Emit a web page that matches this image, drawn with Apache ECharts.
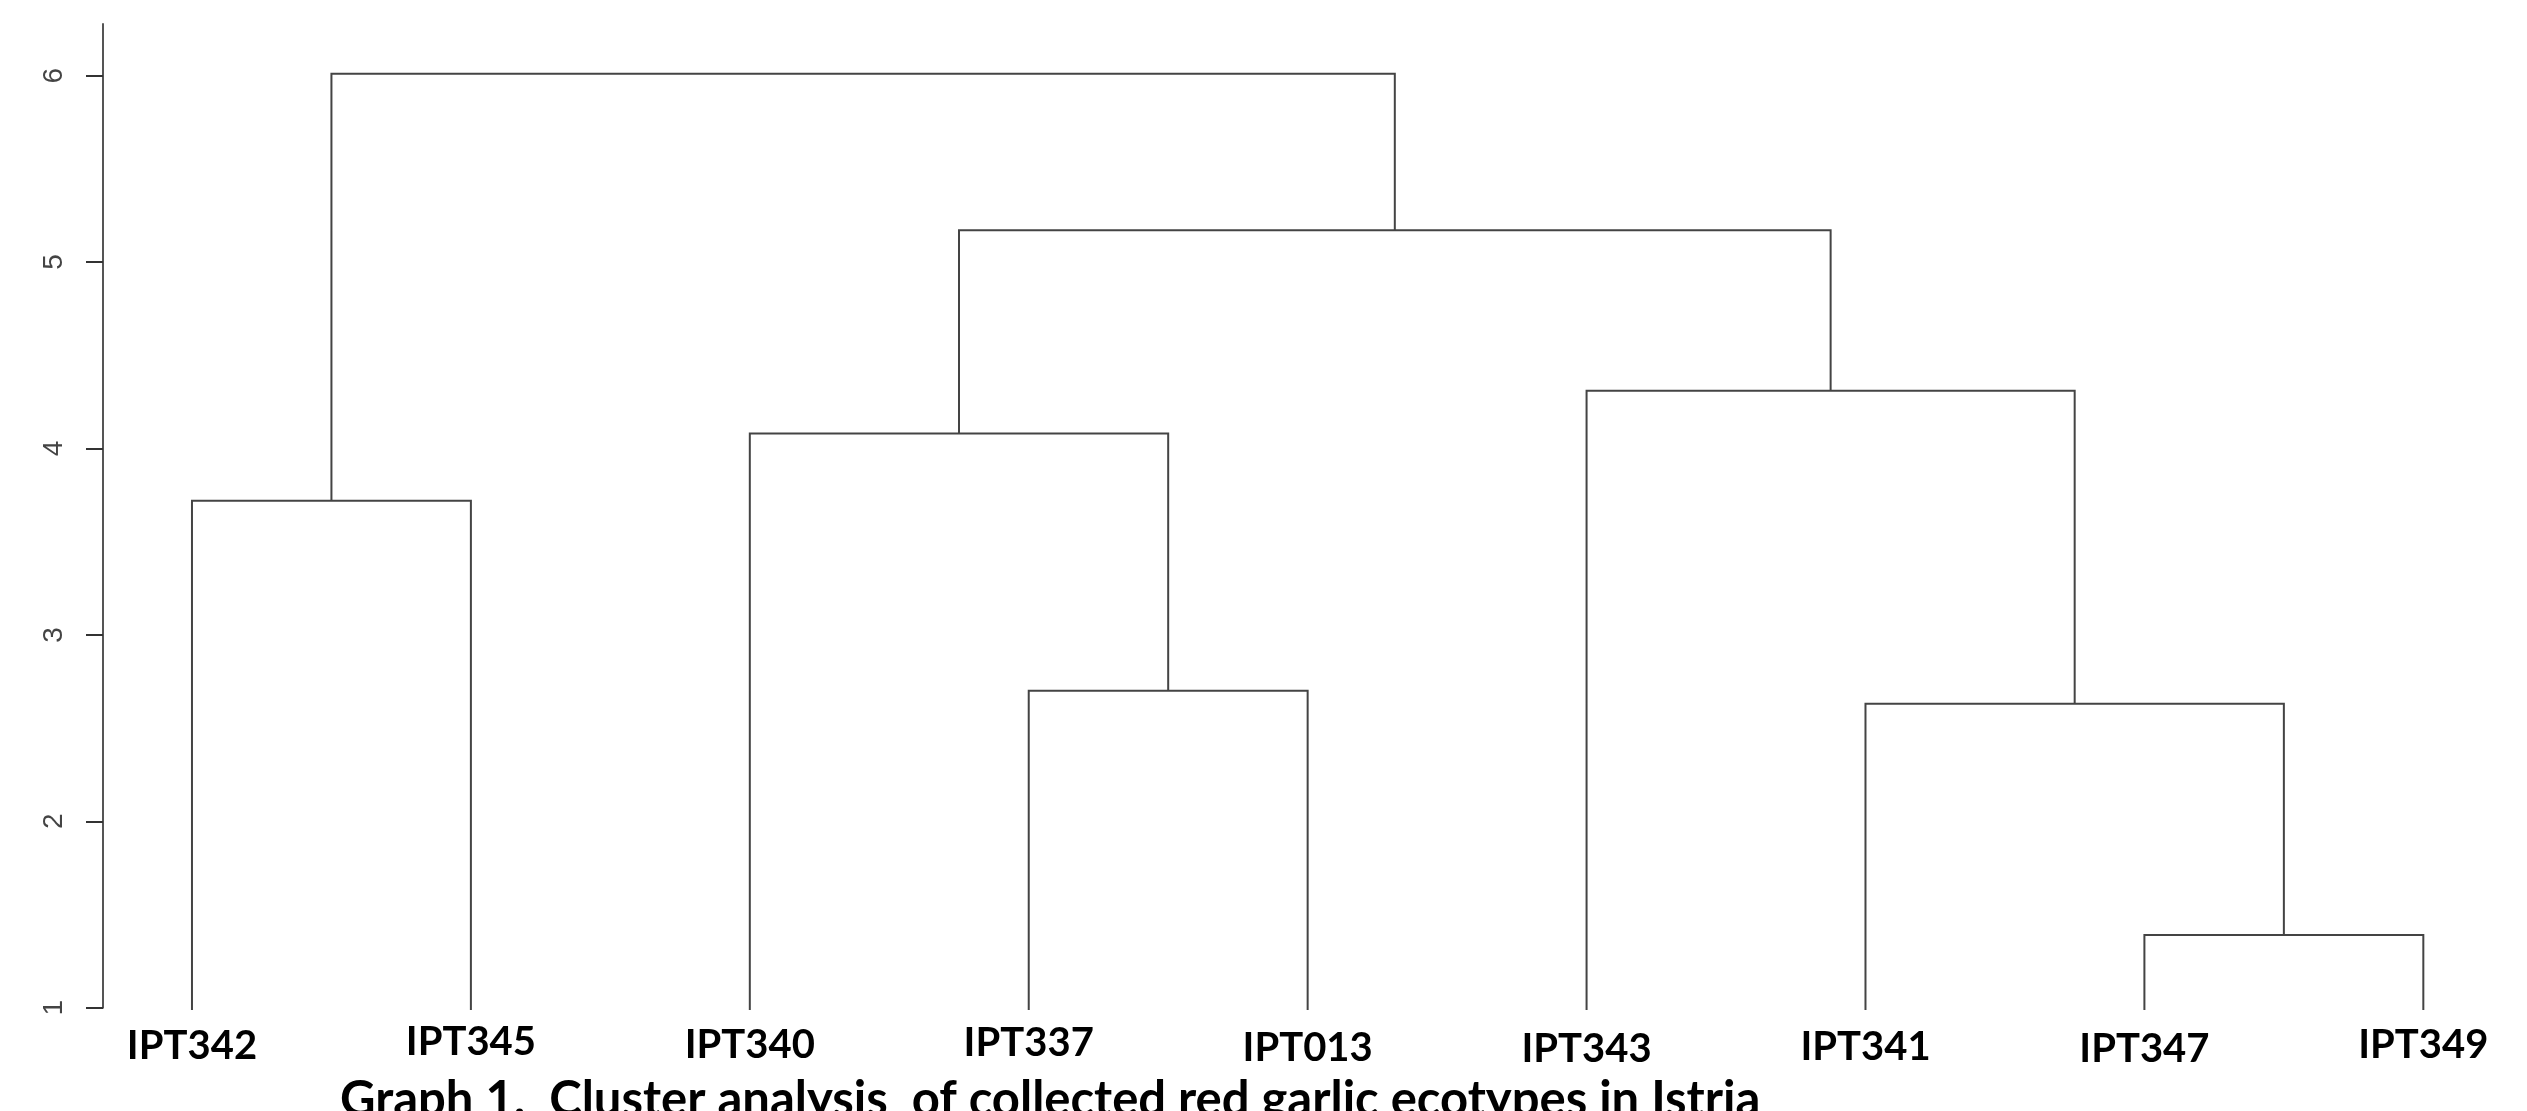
<!DOCTYPE html>
<html><head><meta charset="utf-8">
<script src="https://cdn.jsdelivr.net/npm/echarts@6/dist/echarts.min.js"></script>
<style>html,body{margin:0;padding:0;background:#fff}#c{width:2527px;height:1111px}</style>
</head><body><div id="c"></div>
<script>
// ---- data ----
const leaves = ['IPT342','IPT345','IPT340','IPT337','IPT013','IPT343','IPT341','IPT347','IPT349'];
// R-style merge list: negative = leaf (-1 is first leaf), positive = earlier merge step (1-based)
const mergeLeft   = [-1, -4, -3, -8, -7, -6, 3, 1];
const mergeRight  = [-2, -5,  2, -9,  4,  5, 6, 7];
const mergeHeight = [3.72, 2.70, 4.08, 1.39, 2.63, 4.31, 5.17, 6.01];
const leafBase = 0.988;
const yTicks = [1, 2, 3, 4, 5, 6];
const titleText = 'Graph 1.  Cluster analysis  of collected red garlic ecotypes in Istria';

// ---- styles ----
const labelNudge = [0, -4, -1, -3, 2, 3, 1, 3, -1]; // slight vertical offsets of pasted labels (px)

// build node positions
function nodePos(ref) {
  if (ref < 0) return [-ref - 1, leafBase];
  const k = ref - 1;
  return [mergeX[k], mergeHeight[k]];
}
const mergeX = [];
const segData = [];
for (let k = 0; k < mergeHeight.length; k++) {
  const a = nodePos(mergeLeft[k]);
  const b = nodePos(mergeRight[k]);
  mergeX[k] = (a[0] + b[0]) / 2;
  segData.push([a[0], a[1], b[0], b[1], mergeHeight[k]]);
}
const leafData = leaves.map((n, i) => [i, leafBase]);

const chart = echarts.init(document.getElementById('c'), null, {renderer: 'canvas'});
chart.setOption({
  backgroundColor: '#fff',
  animation: false,
  title: {
    text: titleText,
    left: 340, top: 1076, padding: 0,
    textStyle: {fontFamily: 'Lato', fontWeight: 'bold', fontSize: 49, color: '#000'}
  },
  grid: {left: 103, right: 20, top: 24, bottom: 103.3},
  xAxis: {
    type: 'value', min: -0.319, max: 8.3,
    axisLine: {show: false}, axisTick: {show: false}, axisLabel: {show: false}, splitLine: {show: false}
  },
  yAxis: {
    type: 'value', min: 1, max: 6.277,
    axisLine: {show: true, onZero: false, lineStyle: {color: '#555', width: 2}},
    axisTick: {show: true, length: 17, customValues: yTicks, lineStyle: {color: '#333', width: 2}},
    axisLabel: {show: true, customValues: yTicks, rotate: 90, margin: 35,
      fontFamily: 'Liberation Sans', fontSize: 28, color: '#444'},
    splitLine: {show: false}
  },
  series: [
    {
      type: 'custom', clip: false,
      data: segData,
      renderItem: function (params, api) {
        const pa = api.coord([api.value(0), api.value(1)]);
        const pb = api.coord([api.value(2), api.value(3)]);
        const h = api.coord([api.value(0), api.value(4)])[1];
        return {
          type: 'polyline',
          shape: {points: [pa, [pa[0], h], [pb[0], h], pb]},
          style: {stroke: '#444', lineWidth: 2, fill: null}
        };
      }
    },
    {
      type: 'custom', clip: false,
      data: leafData,
      renderItem: function (params, api) {
        const p = api.coord([api.value(0), api.value(1)]);
        return {
          type: 'text',
          x: p[0], y: p[1] + 36 + labelNudge[params.dataIndex],
          style: {text: leaves[params.dataIndex], fontFamily: 'Lato', fontWeight: 'bold', fontSize: 40,
            fill: '#000', align: 'center', verticalAlign: 'middle'}
        };
      }
    }
  ]
});
</script></body></html>
